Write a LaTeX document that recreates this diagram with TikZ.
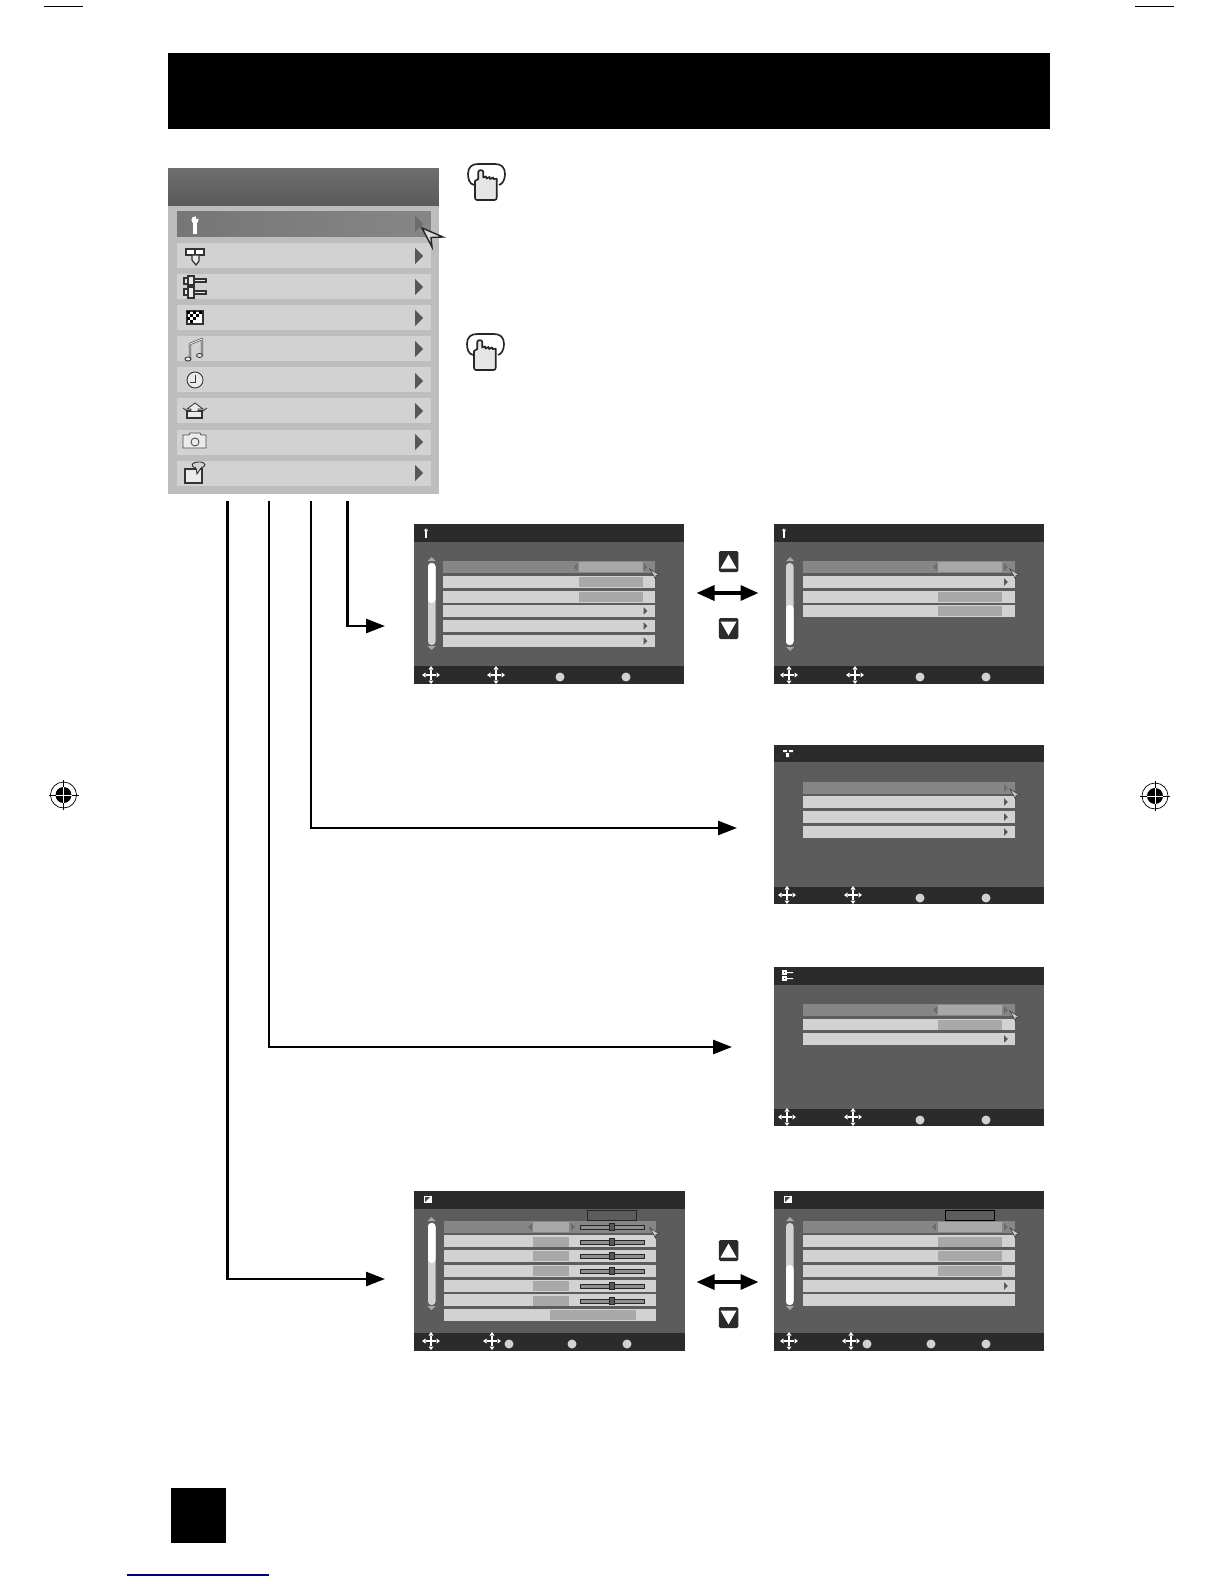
\documentclass[tikz,border=0pt]{standalone}
\usepackage{tikz}
\usetikzlibrary{arrows.meta, positioning, calc}

\definecolor{panelgray}{HTML}{BDBDBD}
\definecolor{headgray}{HTML}{5A5A5A}
\definecolor{rowgray}{HTML}{D2D2D2}
\definecolor{rowon}{HTML}{868686}
\definecolor{valgray}{HTML}{A8A8A8}
\definecolor{scrgray}{HTML}{5C5C5C}
\definecolor{bargray}{HTML}{2B2B2B}
\definecolor{tridark}{HTML}{575757}
\definecolor{tridim}{HTML}{6C6C6C}
\definecolor{linkblue}{HTML}{000080}

\tikzset{
  nw/.style={rectangle, anchor=north west, inner sep=0pt, outer sep=0pt},
  titlebar/.style={nw, fill=black, minimum width=17.64cm, minimum height=1.52cm},
  panel/.style={nw, fill=panelgray, minimum width=5.42cm, minimum height=6.5cm},
  panelhead/.style={nw, top color=headgray!88!white, bottom color=headgray, minimum width=5.42cm, minimum height=.74cm},
  menurow/.style={nw, fill=rowgray, minimum width=5.08cm, minimum height=.5cm},
  screen/.style={nw, fill=scrgray, minimum width=5.4cm, minimum height=3.2cm},
  scrbar/.style={nw, fill=bargray, minimum width=5.4cm, minimum height=.36cm},
  item/.style={nw, fill=rowgray, minimum width=4.24cm, minimum height=.24cm},
  itemon/.style={item, fill=rowon},
  vallong/.style={nw, fill=valgray, minimum width=1.28cm, minimum height=.2cm},
  valshort/.style={vallong, minimum width=.72cm},
  valwide/.style={vallong, minimum width=1.72cm},
  topbox/.style={nw, draw=black!85, fill=scrgray, minimum width=.98cm, minimum height=.2cm},
  slider/.style={nw, draw=black!85, fill=valgray!85!black, minimum width=1.28cm, minimum height=.08cm},
  knob/.style={rectangle, inner sep=0pt, draw=black!85, fill=tridark, minimum width=.09cm, minimum height=.14cm},
  track/.style={nw, fill=rowgray, rounded corners=.07cm, minimum width=.15cm, minimum height=1.64cm},
  thumb/.style={nw, fill=white, rounded corners=.07cm, minimum width=.15cm, minimum height=.8cm},
  dot/.style={circle, inner sep=0pt, fill=rowgray, minimum size=.18cm},
  keybox/.style={rectangle, inner sep=0pt, fill=bargray, rounded corners=.03cm, minimum width=.39cm, minimum height=.42cm},
  arrow/.style={-{Triangle[length=.38cm,width=.28cm]}, line width=1.5pt},
  dblarrow/.style={{Triangle[length=.36cm,width=.3cm]}-{Triangle[length=.36cm,width=.3cm]}, line width=1.9pt},
  mini/.style={scale=.45, color=tridark},
  minidim/.style={scale=.45, color=tridim},
  icon/.style={draw=black!80, fill=black!8, line width=.7pt},
  pics/tri/.style={code={\fill (-4,-8) -- (4,0) -- (-4,8) -- cycle;}},
  pics/captri/.style={code={\fill (-4,2) -- (0,-2) -- (4,2) -- cycle;}},
  pics/keytri/.style={code={\fill[white] (-8,7) -- (0,-7) -- (8,7) -- cycle;}},
  pics/ptr/.style={code={\filldraw[fill=black!22, draw=black!75, line width=.35pt] (-1,-1) -- (8.5,5) -- (5,5.5) -- (4.5,9) -- cycle;}},
  pics/mover/.style={code={
    \draw[white, line width=.6pt] (-5,0) -- (5,0) (0,-5) -- (0,5);
    \fill[white] (-9,0) -- (-5.5,-2.5) -- (-5.5,2.5) -- cycle (9,0) -- (5.5,-2.5) -- (5.5,2.5) -- cycle;
    \fill[white] (0,-9) -- (-2.5,-5.5) -- (2.5,-5.5) -- cycle (0,9) -- (-2.5,5.5) -- (2.5,5.5) -- cycle;
  }},
  pics/wrench/.style={code={
    \fill[white] (-1.6,-3) rectangle (1.6,9);
    \fill[white] (0,-5) circle (3.6);
    \fill[rowon] (0.5,-8) rectangle (3.8,-5.5);
  }},
  pics/hand/.style={code={
    \draw[black!85, line width=.95pt, fill=white] (6,21) .. controls (1,20) and (0,14) .. (0,10) .. controls (0,3) and (4,0) .. (10,0) -- (27,0) .. controls (33,0) and (37,3) .. (37,10) .. controls (37,15) and (35,20) .. (31,21);
    \draw[black!85, line width=.95pt, fill=black!10, line join=round] (9,36) .. controls (7.5,36) and (7,35) .. (7,33.5) -- (7,17) -- (10.3,15) -- (10.3,8) .. controls (10.3,5.5) and (15.3,5.5) .. (15.3,8) -- (15.3,13.5) -- (18,12.5) -- (18.7,14.5) -- (21.5,13) -- (22.2,15) -- (25,13.5) -- (25.6,15) -- (28.7,14.8) -- (28.7,33.5) .. controls (28.7,35) and (28,36) .. (26.5,36) -- cycle;
  }},
  pics/regmark/.style={code={
    \draw[line width=.4pt] (0,0) circle (13);
    \fill (0,0) circle (8);
    \draw[line width=.4pt] (-15,0) -- (15,0) (0,-15) -- (0,15);
    \draw[white, line width=.4pt] (-8,0) -- (8,0) (0,-8) -- (0,8);
  }}
}

\begin{document}
\begin{tikzpicture}[x=.02cm, y=-.02cm]

\useasboundingbox (0,0) rectangle (1224,1584);

% page marks
\draw [line width=.5pt] (44,6) -- (83,6);
\draw [line width=.5pt] (1135,6) -- (1174,6);
\pic at (63.5,795) {regmark};
\pic at (1155,796) {regmark};
\fill (171,1488) rectangle (226,1543);
\draw [linkblue, line width=.6pt] (127,1575) -- (269,1575);

\node (title) [titlebar] at (168,53) {};

% main menu
\node (menu) [panel] at (168,169) {};
\node (menuhead) [panelhead] at (168,169) {};
\node (m1) [menurow, left color=rowon!88!black, right color=rowon] at (177,212) {};
\node (m2) [menurow] at (177,243) {};
\node (m3) [menurow] at (177,274) {};
\node (m4) [menurow] at (177,305) {};
\node (m5) [menurow] at (177,336) {};
\node (m6) [menurow] at (177,367) {};
\node (m7) [menurow] at (177,398) {};
\node (m8) [menurow] at (177,430) {};
\node (m9) [menurow] at (177,461) {};

\pic[color=tridim] at (419,224) {tri};
\pic[color=tridark] at (419,256) {tri};
\pic[color=tridark] at (419,287) {tri};
\pic[color=tridark] at (419,318) {tri};
\pic[color=tridark] at (419,349) {tri};
\pic[color=tridark] at (419,381) {tri};
\pic[color=tridark] at (419,411) {tri};
\pic[color=tridark] at (419,442) {tri};
\pic[color=tridark] at (419,473) {tri};
\filldraw [fill=black!14, draw=black!85, line width=.8pt] (422,228) -- (443,237) -- (431,237.5) -- (432,247) -- cycle;

% menu icons
\pic at (195,225) {wrench};
\draw [icon, fill=white] (186,249) rectangle (204,255) (195,249) -- (195,255);
\draw [icon] (192,255) -- (199,255) -- (199,261) -- (196,265) -- (192,260) -- cycle;
\draw [icon] (184,278) rectangle (188,284) (188,276) rectangle (194,285) (194,279) rectangle (206,282);
\draw [icon] (184,289) rectangle (188,295) (188,287) rectangle (194,298) (194,291) rectangle (206,294);
\draw [icon, fill=white] (187,311) rectangle (203,324);
\foreach \cx/\cy in {187/311, 193/311, 199/311, 190/314, 196/314, 187/317, 193/317, 190/320}
  \fill [black] (\cx,\cy) rectangle ++(3,3);
\draw [black!65, line width=1.3pt, line join=round] (190,359) -- (190,344) -- (202,339) -- (202,355);
\draw [black!5, line width=.5pt, line join=round] (190,359) -- (190,344) -- (202,339) -- (202,355);
\draw [icon, line width=.5pt] (188,359) ellipse (3 and 2) (199.5,355.5) ellipse (3 and 2);
\draw [icon, line width=.5pt] (195,380) circle (8);
\draw [black!80, line width=.5pt] (195,375) -- (195,382) -- (190,382);
\draw [icon] (187,411) rectangle (202,418);
\draw [icon, line width=.5pt] (191,411) -- (191,409) -- (187,409) -- (195,403) -- (203,409) -- (198,409) -- (198,411);
\draw [black!80, line width=.5pt] (183,408) -- (187,411) (207,408) -- (203,411);
\draw [icon, line width=.5pt, draw=black!70] (183,435) -- (189,435) -- (190,433) -- (200,433) -- (201,435) -- (206,435) -- (206,448) -- (183,448) -- cycle;
\draw [icon, line width=.5pt, draw=black!70] (195,442) circle (4);
\draw [icon] (185,469) rectangle (202,483);
\draw [icon, line width=.5pt, fill=rowgray] (197,474) -- (196,468) .. controls (189,466) and (192,462) .. (199,462) .. controls (206,462) and (207,466) .. (201,468) -- cycle;

\pic at (468,164) {hand};
\pic at (467,334) {hand};

% screen A
\node (sa) [screen] at (414,524) {};
\node (sahead) [scrbar] at (414,524) {};
\node (safoot) [scrbar] at (414,666) {};
\pic[scale=.55] at (426,533) {wrench};
\node (sa1) [itemon] at (443,561) {};
\node (sa2) [item] at (443,576) {};
\node (sa3) [item] at (443,591) {};
\node (sa4) [item] at (443,605) {};
\node (sa5) [item] at (443,620) {};
\node (sa6) [item] at (443,635) {};
\node (sav1) [vallong] at (579,562) {};
\node (sav2) [vallong] at (579,577) {};
\node (sav3) [vallong] at (579,592) {};
\pic[minidim, xscale=-1] at (575.5,567) {tri};
\pic[minidim] at (645.5,567) {tri};
\pic[mini] at (645.5,611) {tri};
\pic[mini] at (645.5,626) {tri};
\pic[mini] at (645.5,641) {tri};
\pic at (651,570) {ptr};
\node (satrack) [track] at (428,563) {};
\node (sathumb) [thumb] at (428,563) {};
\pic[color=valgray] at (431.5,559) {captri};
\pic[color=valgray, yscale=-1] at (431.5,648) {captri};
\pic at (431,675) {mover};
\pic at (496,675) {mover};
\node (sao1) [dot] at (560,677) {};
\node (sao2) [dot] at (626,677) {};

% screen B
\node (sb) [screen] at (774,524) {};
\node (sbhead) [scrbar] at (774,524) {};
\node (sbfoot) [scrbar] at (774,666) {};
\pic[scale=.55] at (784,533) {wrench};
\node (sb1) [itemon] at (803,561) {};
\node (sb2) [item] at (803,576) {};
\node (sb3) [item] at (803,591) {};
\node (sb4) [item] at (803,605) {};
\node (sbv1) [vallong] at (938,562) {};
\node (sbv3) [vallong] at (938,592) {};
\node (sbv4) [vallong] at (938,606) {};
\pic[minidim, xscale=-1] at (935,567) {tri};
\pic[minidim] at (1006,567) {tri};
\pic[mini] at (1006,582) {tri};
\pic at (1011,570) {ptr};
\node (sbtrack) [track] at (786,563) {};
\node (sbthumb) [thumb] at (786,605) {};
\pic[color=valgray] at (790,559) {captri};
\pic[color=valgray, yscale=-1] at (790,649) {captri};
\pic at (789,675) {mover};
\pic at (855,675) {mover};
\node (sbo1) [dot] at (920,677) {};
\node (sbo2) [dot] at (986,677) {};

% screen C
\node (sc) [screen, minimum height=3.18cm] at (774,745) {};
\node (schead) [scrbar, minimum height=.34cm] at (774,745) {};
\node (scfoot) [scrbar, minimum height=.34cm] at (774,887) {};
\fill [white] (783,750) rectangle (787,752) (789,750) rectangle (793,752) (786,753) rectangle (789,757);
\node (sc1) [itemon] at (803,782) {};
\node (sc2) [item] at (803,796) {};
\node (sc3) [item] at (803,811) {};
\node (sc4) [item] at (803,826) {};
\pic[minidim] at (1006,788) {tri};
\pic[mini] at (1006,802) {tri};
\pic[mini] at (1006,817) {tri};
\pic[mini] at (1006,832) {tri};
\pic at (1011,790) {ptr};
\pic at (787,895) {mover};
\pic at (853,895) {mover};
\node (sco1) [dot] at (920,898) {};
\node (sco2) [dot] at (986,898) {};

% screen D
\node (sd) [screen, minimum height=3.18cm] at (774,967) {};
\node (sdhead) [scrbar] at (774,967) {};
\node (sdfoot) [scrbar, minimum height=.34cm] at (774,1109) {};
\draw [white, line width=.7pt] (783,971) rectangle (786,974) (783,977) rectangle (786,980);
\fill [white] (786,972) rectangle (793,973.2) (786,978) rectangle (793,979.2);
\node (sd1) [itemon] at (803,1004) {};
\node (sd2) [item, minimum height=.22cm] at (803,1019) {};
\node (sd3) [item] at (803,1033) {};
\node (sdv1) [vallong] at (938,1005) {};
\node (sdv2) [vallong] at (938,1020) {};
\pic[minidim, xscale=-1] at (935,1010) {tri};
\pic[minidim] at (1006,1010) {tri};
\pic[mini] at (1006,1039) {tri};
\pic at (1011,1012) {ptr};
\pic at (787,1117) {mover};
\pic at (853,1117) {mover};
\node (sdo1) [dot] at (920,1120) {};
\node (sdo2) [dot] at (986,1120) {};

% screen E
\node (se) [screen, minimum width=5.42cm] at (414,1191) {};
\node (sehead) [scrbar, minimum width=5.42cm] at (414,1191) {};
\node (sefoot) [scrbar, minimum width=5.42cm] at (414,1333) {};
\fill [white] (424,1196) rectangle (432,1203);
\fill [black!70] (425,1197) -- (430,1197) -- (425,1202) -- cycle;
\node (setop) [topbox] at (587,1210) {};
\node (se1) [itemon] at (444,1221) {};
\node (se2) [item] at (444,1235) {};
\node (se3) [item] at (444,1250) {};
\node (se4) [item] at (444,1265) {};
\node (se5) [item] at (444,1280) {};
\node (se6) [item] at (444,1294) {};
\node (se7) [item] at (444,1309) {};
\node (sev1) [valshort] at (533,1222) {};
\node (sev2) [valshort] at (533,1237) {};
\node (sev3) [valshort] at (533,1251) {};
\node (sev4) [valshort] at (533,1266) {};
\node (sev5) [valshort] at (533,1281) {};
\node (sev6) [valshort] at (533,1296) {};
\node (sev7) [valwide] at (550,1310) {};
\node (ses1) [slider] at (580,1225) {};
\node (ses2) [slider] at (580,1240) {};
\node (ses3) [slider] at (580,1254) {};
\node (ses4) [slider] at (580,1269) {};
\node (ses5) [slider] at (580,1284) {};
\node (ses6) [slider] at (580,1299) {};
\node [knob] at (ses1.center) {};
\node [knob] at (ses2.center) {};
\node [knob] at (ses3.center) {};
\node [knob] at (ses4.center) {};
\node [knob] at (ses5.center) {};
\node [knob] at (ses6.center) {};
\pic[minidim, xscale=-1] at (530,1227) {tri};
\pic[minidim] at (573,1227) {tri};
\pic at (651,1229) {ptr};
\node (setrack) [track] at (428,1223) {};
\node (sethumb) [thumb] at (428,1223) {};
\pic[color=valgray] at (431.5,1219) {captri};
\pic[color=valgray, yscale=-1] at (431.5,1308) {captri};
\pic at (431,1341) {mover};
\pic at (492,1341) {mover};
\node (seo1) [dot] at (509,1344) {};
\node (seo2) [dot] at (572,1344) {};
\node (seo3) [dot] at (627,1344) {};

% screen F
\node (sf) [screen] at (774,1191) {};
\node (sfhead) [scrbar] at (774,1191) {};
\node (sffoot) [scrbar] at (774,1333) {};
\fill [white] (784,1196) rectangle (792,1203);
\fill [black!70] (785,1197) -- (790,1197) -- (785,1202) -- cycle;
\node (sftop) [topbox, draw=black] at (945,1210) {};
\node (sf1) [itemon] at (803,1221) {};
\node (sf2) [item] at (803,1235) {};
\node (sf3) [item] at (803,1250) {};
\node (sf4) [item] at (803,1265) {};
\node (sf5) [item] at (803,1280) {};
\node (sf6) [item] at (803,1294) {};
\node (sfv1) [vallong] at (938,1222) {};
\node (sfv2) [vallong] at (938,1237) {};
\node (sfv3) [vallong] at (938,1251) {};
\node (sfv4) [vallong] at (938,1266) {};
\pic[minidim, xscale=-1] at (934,1227) {tri};
\pic[minidim] at (1006,1227) {tri};
\pic[mini] at (1006,1286) {tri};
\pic at (1011,1229) {ptr};
\node (sftrack) [track] at (786,1223) {};
\node (sfthumb) [thumb] at (786,1265) {};
\pic[color=valgray] at (790,1219) {captri};
\pic[color=valgray, yscale=-1] at (790,1308) {captri};
\pic at (789,1341) {mover};
\pic at (851,1341) {mover};
\node (sfo1) [dot] at (867,1344) {};
\node (sfo2) [dot] at (931,1344) {};
\node (sfo3) [dot] at (986,1344) {};

% up and down keys
\node (keyu1) [keybox] at (728.5,561.5) {};
\node (keyd1) [keybox] at (728.5,628.5) {};
\node (keyu2) [keybox] at (728.5,1250.5) {};
\node (keyd2) [keybox] at (728.5,1317.5) {};
\pic at (keyu1) {keytri};
\pic[yscale=-1] at (keyd1) {keytri};
\pic at (keyu2) {keytri};
\pic[yscale=-1] at (keyd2) {keytri};

\coordinate (d1l) at (696.5,593);
\coordinate (d1r) at (758.5,593);
\coordinate (d2l) at (696.5,1282);
\coordinate (d2r) at (758.5,1282);
\draw [dblarrow] (d1l) -- (d1r);
\draw [dblarrow] (d2l) -- (d2r);

% links from the menu
\coordinate (from1) at (347.5,501);
\coordinate (from2) at (311,501);
\coordinate (from3) at (269,501);
\coordinate (from4) at (227.5,501);
\coordinate (to1) at (385,626);
\coordinate (to2) at (737,828);
\coordinate (to3) at (732,1047);
\coordinate (to4) at (385,1279);
\draw [arrow] (from1) |- (to1);
\draw [arrow] (from2) |- (to2);
\draw [arrow] (from3) |- (to3);
\draw [arrow] (from4) |- (to4);

\end{tikzpicture}
\end{document}
